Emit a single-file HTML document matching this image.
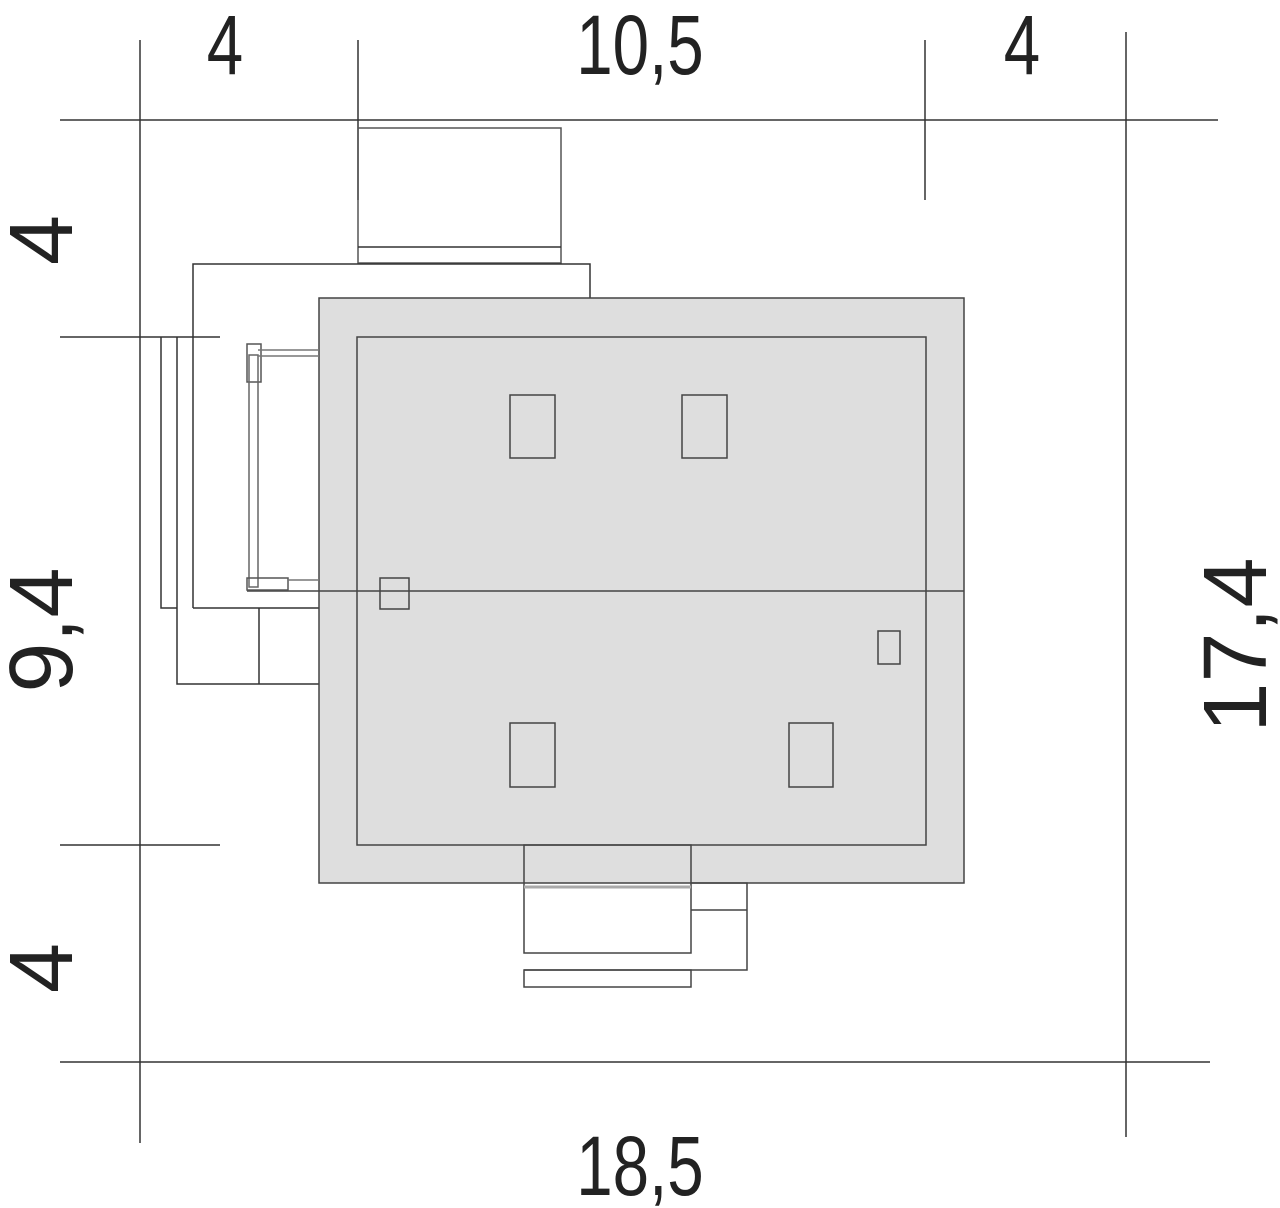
<!DOCTYPE html>
<html><head><meta charset="utf-8"><style>
html,body{margin:0;padding:0;background:#fff;}
svg{display:block}
text{font-family:"Liberation Sans",sans-serif;font-size:84px;fill:#222;}
text.v{font-size:90px;}
</style></head><body>
<svg width="1280" height="1208" viewBox="0 0 1280 1208" xmlns="http://www.w3.org/2000/svg">
<g stroke="#333" stroke-width="1.5" fill="none">
<line x1="60" y1="120" x2="1218" y2="120"/>
<line x1="60" y1="1062" x2="1210" y2="1062"/>
<line x1="140" y1="40" x2="140" y2="1143"/>
<line x1="1126" y1="32" x2="1126" y2="1137"/>
<line x1="358" y1="40" x2="358" y2="200"/>
<line x1="925" y1="40" x2="925" y2="200"/>
<line x1="60" y1="337" x2="220" y2="337"/>
<line x1="60" y1="845" x2="220" y2="845"/>
<rect x="358" y="128" width="203" height="135" stroke="#555"/>
<line x1="358" y1="247" x2="561" y2="247"/>
<polyline points="193,608 193,264 590,264 590,298"/>
<line x1="193" y1="608" x2="319" y2="608"/>
<polyline points="161,337 161,608 177,608"/>
<polyline points="177,337 177,684 319,684"/>
<line x1="259" y1="608" x2="259" y2="684"/>
</g>
<rect x="319" y="298" width="645" height="585" fill="#dedede" stroke="#444" stroke-width="1.5"/>
<g stroke="#444" stroke-width="1.5" fill="none">
<rect x="357" y="337" width="569" height="508"/>
<line x1="247" y1="591" x2="964" y2="591"/>
<rect x="247" y="344" width="14" height="38" stroke="#555"/>
<rect x="249" y="355" width="9" height="232" stroke="#666"/>
<line x1="258" y1="350" x2="319" y2="350" stroke="#777"/>
<line x1="258" y1="356" x2="319" y2="356" stroke="#777"/>
<rect x="247" y="578" width="41" height="12" stroke="#555"/>
<line x1="288" y1="580" x2="319" y2="580" stroke="#777"/>
<rect x="510" y="395" width="45" height="63"/>
<rect x="682" y="395" width="45" height="63"/>
<rect x="510" y="723" width="45" height="64"/>
<rect x="789" y="723" width="44" height="64"/>
<rect x="878" y="631" width="22" height="33"/>
<rect x="380" y="578" width="29" height="31"/>
<rect x="524" y="845" width="167" height="108"/>
<line x1="524" y1="887" x2="691" y2="887" stroke="#aaa" stroke-width="3"/>
<polyline points="691,883 747,883 747,970 524,970"/>
<line x1="691" y1="910" x2="747" y2="910"/>
<rect x="524" y="970" width="167" height="17"/>
</g>
<text x="225" y="74" text-anchor="middle" transform="translate(225 0) scale(0.78 1) translate(-225 0)">4</text>
<text x="640" y="74" text-anchor="middle" transform="translate(640 0) scale(0.78 1) translate(-640 0)">10,5</text>
<text x="1022" y="74" text-anchor="middle" transform="translate(1022 0) scale(0.78 1) translate(-1022 0)">4</text>
<text x="640" y="1195" text-anchor="middle" transform="translate(640 0) scale(0.78 1) translate(-640 0)">18,5</text>
<g transform="translate(72 240) rotate(-90)"><text class="v" x="0" y="0" text-anchor="middle">4</text></g>
<g transform="translate(72 630) rotate(-90)"><text class="v" x="0" y="0" text-anchor="middle">9,4</text></g>
<g transform="translate(72 968) rotate(-90)"><text class="v" x="0" y="0" text-anchor="middle">4</text></g>
<g transform="translate(1266 645) rotate(-90)"><text class="v" x="0" y="0" text-anchor="middle">17,4</text></g>
</svg>
</body></html>
